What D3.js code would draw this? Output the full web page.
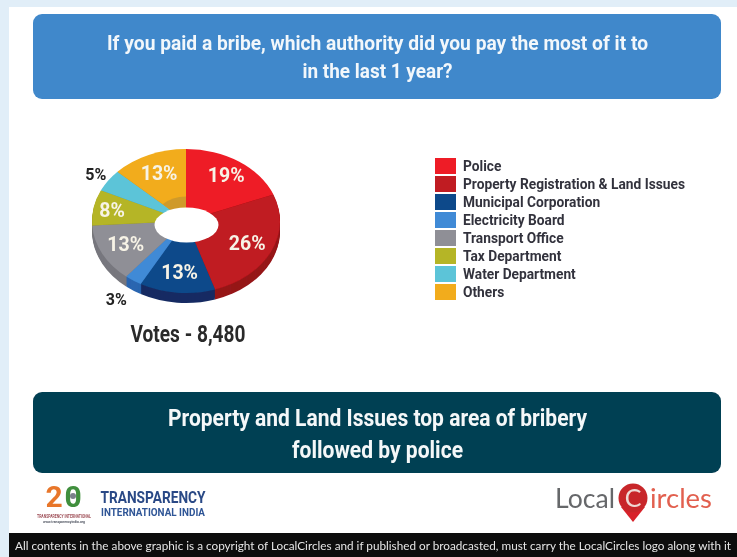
<!DOCTYPE html>
<html><head><meta charset="utf-8">
<script src="https://cdn.jsdelivr.net/npm/d3@7/dist/d3.min.js"></script>
<style>html,body{margin:0;padding:0;background:#e1eef8;overflow:hidden}svg{display:block}
text{font-family:"Roboto","Liberation Sans",sans-serif;font-weight:700}</style>
</head><body><svg id="c" width="737" height="557"></svg>
<script>
const categories = ["Police","Property Registration & Land Issues","Municipal Corporation","Electricity Board","Transport Office","Tax Department","Water Department","Others"];
const values = [19,26,13,3,13,8,5,13];
const topColors = ["#ee1c25","#c01a20","#0f4a8a","#3f8ad6","#8f8f96","#b5b525","#5cc4d8","#f2ac1b"];
const sideColors = ["#b5161c","#96141a","#152c63","#2a66b0","#77777e","#8c8c1c","#3f9aae","#c98a12"];
const titleLines = ["If you paid a bribe, which authority did you pay the most of it to","in the last 1 year?"];
const bannerLines = ["Property and Land Issues top area of bribery","followed by police"];
const votesLabel = "Votes - 8,480";
const footerText = "All contents in the above graphic is a copyright of LocalCircles and if published or broadcasted, must carry the LocalCircles logo along with it";

const svg = d3.select("#c");
const defs = svg.append("defs");
defs.append("filter").attr("id","soft").attr("filterUnits","userSpaceOnUse")
  .attr("x",0).attr("y",0).attr("width",737).attr("height",557)
  .append("feGaussianBlur").attr("stdDeviation",0.7);
const root = svg.append("g").attr("filter","url(#soft)");

root.append("rect").attr("x",-5).attr("y",-5).attr("width",750).attr("height",570).attr("fill","#e1eef8");
root.append("rect").attr("x",9).attr("y",7).attr("width",735).attr("height",526).attr("fill","#fff");
root.append("rect").attr("x",9).attr("y",533).attr("width",735).attr("height",30).attr("fill","#0a0a0a");

function line(t,x,y,size,fill,len,anchor){
  const s = root.append("text").attr("x",x).attr("y",y).attr("font-size",size).attr("fill",fill)
    .attr("text-anchor",anchor||"middle").attr("dominant-baseline","central").text(t);
  if(len) s.attr("textLength",len).attr("lengthAdjust","spacingAndGlyphs");
  return s;
}

// header + banner
root.append("rect").attr("x",33).attr("y",14).attr("width",688).attr("height",85).attr("rx",9).attr("fill","#3f88cb");
line(titleLines[0],377.5,43,20,"#f2f7fb",541);
line(titleLines[1],377.5,71,20,"#f2f7fb",150);
root.append("rect").attr("x",33).attr("y",392).attr("width",688).attr("height",81).attr("rx",9).attr("fill","#063f52");
line(bannerLines[0],377.5,418,23,"#f4f8f9",419);
line(bannerLines[1],377.5,450,23,"#f4f8f9",171);

// 3D donut
const cx=186, cy=221, rx=94, ry=72, depth=10;
const arcs = d3.pie().sort(null).value(d=>d)(values);
const unit = d3.arc().innerRadius(0).outerRadius(1);
const pie = root.append("g");
d3.range(depth,0,-1).forEach(off=>{
  pie.append("g").attr("transform",`translate(${cx},${cy+off}) scale(${rx},${ry})`)
    .selectAll("path").data(arcs).join("path").attr("d",unit).attr("fill",(d,i)=>sideColors[i]);
});
pie.append("g").attr("transform",`translate(${cx},${cy}) scale(${rx},${ry})`)
  .selectAll("path").data(arcs).join("path").attr("d",unit).attr("fill",(d,i)=>topColors[i]);
// inner wall visible above the hole, in the last slice only
pie.append("path").attr("transform",`translate(${cx},${cy}) scale(${rx},${ry})`)
  .attr("d",d3.arc().innerRadius(0).outerRadius(0.34)(arcs[7])).attr("fill","#cf9a2c");
pie.append("ellipse").attr("cx",cx+0.5).attr("cy",cy+4).attr("rx",32).attr("ry",17.5).attr("fill","#fff");

// slice labels
const labelR = [0.76,0.72,0.72,1.32,0.72,0.8,1.16,0.72];
arcs.forEach((d,i)=>{
  const a=(d.startAngle+d.endAngle)/2, r=labelR[i];
  const outside = r>1;
  line(values[i]+"%",cx+rx*r*Math.sin(a),cy-ry*r*Math.cos(a),outside?16:19.5,outside?"#222":"#f7f3e6",null);
});
line(votesLabel,188,334,23,"#2b2b2b",115);

// legend
const ly = d3.scalePoint().domain(categories).range([166,292]);
const legendTexts = categories.map((c,i)=>{
  root.append("rect").attr("x",435).attr("y",ly(c)-8).attr("width",21).attr("height",16).attr("fill",topColors[i]);
  return line(c,463,ly(c),15,"#33333d",null,"start");
});
const measured = legendTexts.map(t=>t.node().getComputedTextLength());
const squeeze = 222/d3.max(measured);
legendTexts.forEach((t,i)=>t.attr("textLength",measured[i]*squeeze).attr("lengthAdjust","spacingAndGlyphs"));

// Transparency International India mark
line("2",54,496,30,"#e8762a");
line("0",73,496,30,"#3f8f3c");
root.append("circle").attr("cx",73).attr("cy",496).attr("r",3).attr("fill","#7a7f8a");
line("TRANSPARENCY INTERNATIONAL",64,516,4.5,"#a0525a",54);
line("www.transparencyindia.org",64,521,4,"#555a66",42);
line("TRANSPARENCY",153,497,16,"#2a4a86",105);
line("INTERNATIONAL INDIA",153,512,11,"#2f5596",104);

// LocalCircles mark
const logo = t => root.append("text").attr("dominant-baseline","central").text(t)
  .style("font-family",'"Lato","Open Sans",sans-serif').style("font-weight",400);
logo("Local").attr("x",555).attr("y",497).attr("font-size",27).attr("fill","#66676b")
  .attr("textLength",60).attr("lengthAdjust","spacingAndGlyphs");
root.append("path").attr("d","M621 507 L633 522 L645 507 Z").attr("fill","#d8232a");
root.append("circle").attr("cx",633).attr("cy",498).attr("r",14.5).attr("fill","#c8282a");
logo("C").attr("x",633).attr("y",497).attr("text-anchor","middle").attr("font-size",25).attr("fill","#efd9d5");
logo("ircles").attr("x",650).attr("y",497).attr("font-size",27).attr("fill","#e2604f")
  .attr("textLength",62).attr("lengthAdjust","spacingAndGlyphs");

// footer
root.append("text").attr("x",15).attr("y",546).attr("dominant-baseline","central").attr("font-size",10.5)
  .attr("fill","#e6e6e6").attr("textLength",716).attr("lengthAdjust","spacingAndGlyphs")
  .style("font-family",'"Lato","Open Sans",sans-serif').style("font-weight",400).text(footerText);
</script></body></html>
